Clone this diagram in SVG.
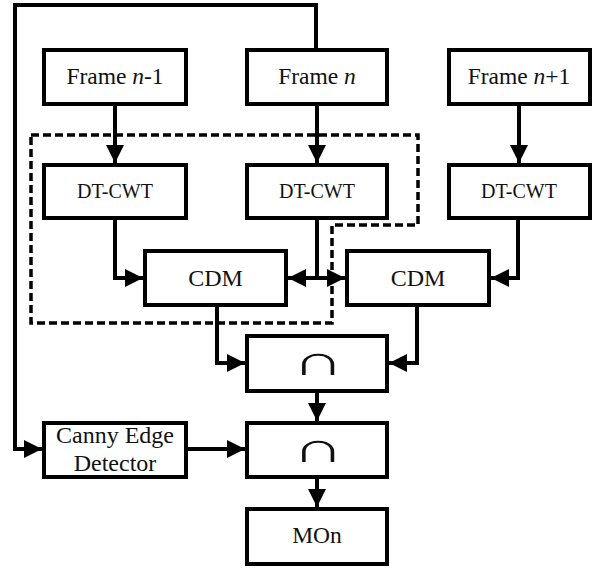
<svg xmlns="http://www.w3.org/2000/svg" width="604" height="568" viewBox="0 0 604 568">
  <style>
    .box { fill: #fff; stroke: #000; stroke-width: 4; }
    .lbl { fill: #111; text-anchor: middle; }
    .frame { font-size: 23.5px; }
    .dt { font-size: 20px; }
    .cdm { font-size: 24px; }
    .cap { font-size: 46px; }
    .wire { fill: none; stroke: #000; stroke-width: 4; }
    .arrow { marker-end: url(#head); }
    .dash { fill: none; stroke: #000; stroke-width: 3.5; stroke-dasharray: 8 4; }
  </style>
  <defs>
    <marker id="head" markerUnits="userSpaceOnUse" markerWidth="18" markerHeight="18" refX="18" refY="9" orient="auto">
      <path d="M0,0 L18,9 L0,18 Z" fill="#000"/>
    </marker>
  </defs>
  <rect width="604" height="568" fill="#fff"/>

  <!-- grouping boundary around the n-1 / n decomposition pair -->
  <path class="dash" d="M31,135 H418 V225 H332 V323 H31 Z"/>

  <g id="connectors">
    <path class="wire arrow" d="M316,48 V5 H15 V449 H42"/>
    <path class="wire arrow" d="M115,106 V163"/>
    <path class="wire arrow" d="M317,106 V163"/>
    <path class="wire arrow" d="M519,106 V163"/>
    <path class="wire arrow" d="M115,220 V278 H143"/>
    <path class="wire" d="M317,220 V278"/>
    <path class="wire arrow" d="M317,278 H288"/>
    <path class="wire arrow" d="M317,278 H345"/>
    <path class="wire arrow" d="M518,220 V278 H491"/>
    <path class="wire arrow" d="M217,307 V363 H245"/>
    <path class="wire arrow" d="M417,307 V363 H389"/>
    <path class="wire arrow" d="M317,393 V421"/>
    <path class="wire arrow" d="M188,449 H245"/>
    <path class="wire arrow" d="M317,479 V507"/>
  </g>

  <g font-family="Liberation Serif, DejaVu Serif, Noto Serif, serif">
    <g id="frame-prev">
      <rect class="box" x="44" y="50" width="142" height="54"/>
      <text class="lbl frame" x="115" y="84">Frame <tspan font-style="italic">n</tspan>-1</text>
    </g>
    <g id="frame-cur">
      <rect class="box" x="247" y="50" width="140" height="54"/>
      <text class="lbl frame" x="317" y="84">Frame <tspan font-style="italic">n</tspan></text>
    </g>
    <g id="frame-next">
      <rect class="box" x="449" y="50" width="141" height="54"/>
      <text class="lbl frame" x="519" y="84">Frame <tspan font-style="italic">n</tspan>+1</text>
    </g>

    <g id="dtcwt-prev">
      <rect class="box" x="44" y="165" width="142" height="53"/>
      <text class="lbl dt" x="115" y="198">DT-CWT</text>
    </g>
    <g id="dtcwt-cur">
      <rect class="box" x="247" y="165" width="140" height="53"/>
      <text class="lbl dt" x="317" y="198">DT-CWT</text>
    </g>
    <g id="dtcwt-next">
      <rect class="box" x="449" y="165" width="141" height="53"/>
      <text class="lbl dt" x="519" y="198">DT-CWT</text>
    </g>

    <g id="cdm-left">
      <rect class="box" x="145" y="251" width="141" height="54"/>
      <text class="lbl cdm" x="215.5" y="286">CDM</text>
    </g>
    <g id="cdm-right">
      <rect class="box" x="347" y="251" width="142" height="54"/>
      <text class="lbl cdm" x="418" y="286">CDM</text>
    </g>

    <g id="intersect-1">
      <rect class="box" x="247" y="336" width="140" height="55"/>
      <text class="lbl cap" transform="translate(318,375) scale(1.55,0.92)">∩</text>
    </g>
    <g id="canny">
      <rect class="box" x="44" y="423" width="142" height="54"/>
      <text class="lbl cdm" x="115" y="443">Canny Edge</text>
      <text class="lbl cdm" x="115" y="471">Detector</text>
    </g>
    <g id="intersect-2">
      <rect class="box" x="247" y="423" width="140" height="54"/>
      <text class="lbl cap" transform="translate(318,462) scale(1.55,0.92)">∩</text>
    </g>
    <g id="mon">
      <rect class="box" x="247" y="509" width="140" height="55"/>
      <text class="lbl frame" x="317" y="543">MOn</text>
    </g>
  </g>
</svg>
